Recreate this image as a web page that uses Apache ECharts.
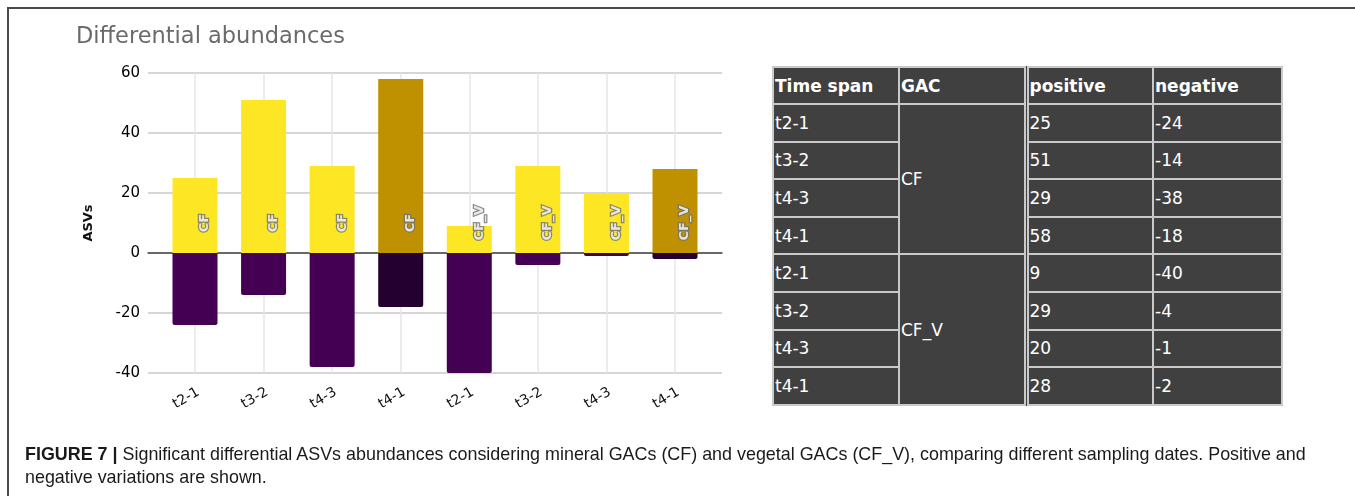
<!DOCTYPE html>
<html>
<head>
<meta charset="utf-8">
<script src="https://cdn.jsdelivr.net/npm/echarts@6/dist/echarts.min.js"></script>
<style>
  html, body { margin: 0; padding: 0; background: #fff; }
  #wrap { position: relative; width: 1355px; height: 496px; overflow: hidden; }
  #frame { position: absolute; left: 7px; top: 7px; right: -5px; bottom: -5px;
    border-top: 2px solid #4a4a4a; border-left: 2px solid #4a4a4a; }
  #chart { position: absolute; left: 0; top: 0; width: 1355px; height: 496px; }
  #tbl { position: absolute; left: 772px; top: 66px; border-collapse: collapse; table-layout: fixed;
    background: #404040; font-family: "DejaVu Sans", Verdana, sans-serif; font-size: 17px; color: #fff; }
  #tbl td, #tbl th { border: 2px solid #c9c9c9; padding: 0 1px; text-align: left; height: 37.6px;
    overflow: hidden; white-space: nowrap; box-sizing: border-box; }
  #tbl th { font-weight: bold; height: 37px; }
  #tbl .c0 { width: 126px; }
  #tbl .c1 { width: 127px; }
  #tbl .c2 { width: 127px; border-left: 5px double #c9c9c9; }
  #tbl .c3 { width: 129px; }
  #caption { position: absolute; left: 25px; top: 442px; font-family: "Liberation Sans", Arial, sans-serif;
    font-size: 19px; line-height: 23px; color: #1a1a1a; white-space: nowrap;
    transform: scaleX(0.942); transform-origin: 0 0; }
</style>
</head>
<body>
<div id="wrap">
  <div id="frame"></div>
  <div id="chart"></div>
  <table id="tbl"></table>
  <div id="caption"><b>FIGURE 7 |</b> Significant differential ASVs abundances considering mineral GACs (CF) and vegetal GACs (CF_V), comparing different sampling dates. Positive and<br>negative variations are shown.</div>
</div>
<script>
var timeSpans = ['t2-1', 't3-2', 't4-3', 't4-1', 't2-1', 't3-2', 't4-3', 't4-1']
var gacs = ['CF', 'CF', 'CF', 'CF', 'CF_V', 'CF_V', 'CF_V', 'CF_V']
var positive = [25, 51, 29, 58, 9, 29, 20, 28]
var negative = [-24, -14, -38, -18, -40, -4, -1, -2]
var yTicks = [-40, -20, 0, 20, 40, 60]
var labelLevel = 10

// table built from the same arrays
var tbl = document.getElementById('tbl')
var html = '<tr><th class="c0">Time span</th><th class="c1">GAC</th><th class="c2">positive</th><th class="c3">negative</th></tr>'
for (var i = 0; i < timeSpans.length; i++) {
  html += '<tr><td class="c0">' + timeSpans[i] + '</td>'
  if (i === 0 || gacs[i] !== gacs[i - 1]) {
    var span = gacs.filter(function (g) { return g === gacs[i] }).length
    html += '<td class="c1" rowspan="' + span + '">' + gacs[i] + '</td>'
  }
  html += '<td class="c2">' + positive[i] + '</td><td class="c3">' + negative[i] + '</td></tr>'
}
tbl.innerHTML = html

var chart = echarts.init(document.getElementById('chart'))
var font = 'DejaVu Sans'

chart.setOption({
  animation: false,
  title: {
    text: 'Differential abundances',
    left: 71,
    top: 21,
    textStyle: { fontFamily: font, fontWeight: 'normal', fontSize: 22.5, color: '#6a6a6a' }
  },
  grid: [
    { left: 148, top: 73, width: 574, height: 300 },
    { left: 195, top: 73, width: 480, height: 300 }
  ],
  xAxis: [{
    gridIndex: 0,
    type: 'value',
    min: 0,
    max: 1,
    axisLine: { show: true, onZero: true, lineStyle: { color: '#444', width: 1.5 } },
    axisTick: { show: false },
    axisLabel: { show: false },
    splitLine: { show: false }
  }, {
    gridIndex: 1,
    type: 'category',
    boundaryGap: false,
    data: timeSpans,
    axisLine: { show: false },
    axisTick: { show: false },
    axisLabel: { rotate: 30, margin: 12, verticalAlign: 'top', fontFamily: font, fontSize: 14, color: '#111' },
    splitLine: { show: true, lineStyle: { color: '#e6e6e6', width: 1.5 } }
  }],
  yAxis: [{
    gridIndex: 0,
    type: 'value',
    min: yTicks[0],
    max: yTicks[yTicks.length - 1],
    interval: 20,
    name: 'ASVs',
    nameLocation: 'middle',
    nameRotate: 90,
    nameGap: 53,
    nameTextStyle: { fontFamily: font, fontSize: 13, fontWeight: 'bold', color: '#111' },
    axisLine: { show: false },
    axisTick: { show: false },
    axisLabel: { margin: 8, fontFamily: font, fontSize: 15, color: '#000' },
    splitLine: { lineStyle: { color: '#d6d6d6', width: 2 } }
  }, {
    gridIndex: 1,
    type: 'value',
    min: yTicks[0],
    max: yTicks[yTicks.length - 1],
    interval: 20,
    show: false,
    splitLine: { show: false }
  }],
  series: [{
    type: 'bar',
    xAxisIndex: 1,
    yAxisIndex: 1,
    clip: false,
    barWidth: 45,
    barGap: '-100%',
    data: positive,
    itemStyle: {
      color: function (p) { return timeSpans[p.dataIndex] === 't4-1' ? '#bf9000' : '#fde725' }
    }
  }, {
    type: 'bar',
    xAxisIndex: 1,
    yAxisIndex: 1,
    clip: false,
    barWidth: 45,
    barGap: '-100%',
    data: negative,
    itemStyle: {
      borderRadius: [0, 0, 2, 2],
      color: function (p) { return timeSpans[p.dataIndex] === 't4-1' ? '#230030' : '#440154' }
    }
  }, {
    type: 'scatter',
    xAxisIndex: 1,
    yAxisIndex: 1,
    symbolSize: 0,
    silent: true,
    data: gacs.map(function (g, i) { return [i, labelLevel] }),
    label: {
      show: true,
      position: 'inside',
      rotate: 90,
      offset: [0, 10],
      formatter: function (p) { return gacs[p.dataIndex] },
      fontFamily: font,
      fontSize: 13,
      fontWeight: 'bold',
      color: '#fff',
      textBorderColor: '#707070',
      textBorderWidth: 2.5
    }
  }]
})
</script>
</body>
</html>
